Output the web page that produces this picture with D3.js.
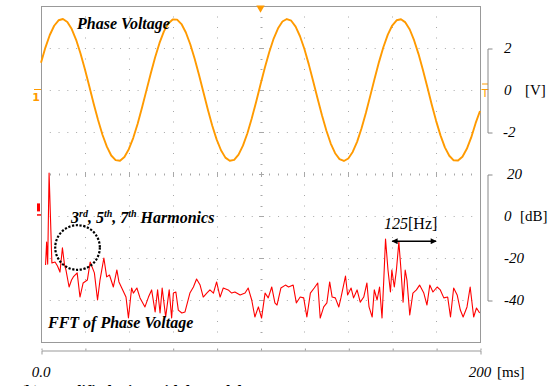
<!DOCTYPE html>
<html>
<head>
<meta charset="utf-8">
<script src="https://cdn.jsdelivr.net/npm/d3@7/dist/d3.min.js"></script>
<style>
  html, body { margin: 0; padding: 0; background: #fff; }
  svg { display: block; }
  text { font-family: 'Liberation Serif', 'Times New Roman', serif; fill: #000; }
</style>
</head>
<body>
<div id="chart"></div>
<script>
// phase voltage, one sample every 2 ms from 0 to 200 ms [V]
const voltStep = 2;
const phaseVolt = [1.30, 2.02, 2.62, 3.06, 3.32, 3.38, 3.24, 2.90, 2.39, 1.74, 0.99, 0.18, -0.65, -1.43, -2.13, -2.70,
  -3.12, -3.34, -3.37, -3.19, -2.82, -2.29, -1.62, -0.85, -0.03, 0.79, 1.56, 2.24, 2.79, 3.17, 3.36, 3.35, 3.14,
  2.74, 2.18, 1.49, 0.71, -0.11, -0.93, -1.69, -2.35, -2.87, -3.22, -3.37, -3.33, -3.08, -2.65, -2.07, -1.36,
  -0.57, 0.26, 1.07, 1.81, 2.45, 2.94, 3.26, 3.38, 3.30, 3.02, 2.56, 1.95, 1.22, 0.42, -0.40, -1.20, -1.93,
  -2.55, -3.01, -3.29, -3.38, -3.26, -2.95, -2.47, -1.83, -1.09, -0.28, 0.55, 1.34, 2.05, 2.64, 3.07, 3.32,
  3.37, 3.22, 2.88, 2.36, 1.71, 0.95, 0.14, -0.69, -1.47, -2.16, -2.73, -3.13, -3.35, -3.36, -3.18, -2.80,
  -2.26, -1.58, -1.00];

// FFT of the phase voltage: frequency [Hz] and level [dB]
const fftFreq = [13, 16, 19, 23, 27, 31, 40, 47, 54, 61, 67, 71, 80, 87, 92, 103, 111, 120, 132, 140, 152, 161,
  168, 179, 187, 195, 206, 216, 222, 230, 242, 249, 258, 263, 273, 282, 296, 306, 315, 325, 332, 339, 345, 355,
  365, 372, 377, 384, 391, 401, 410, 424, 434, 443, 453, 462, 472, 481, 491, 500, 510, 519, 533, 543, 552, 567,
  581, 590, 600, 609, 619, 628, 638, 647, 657, 666, 672, 683, 696, 705, 718, 727, 738, 748, 757, 767, 778, 788,
  795, 805, 814, 822, 829, 838, 848, 854, 867, 873, 883, 890, 900, 909, 919, 928, 934, 943, 949, 957, 964, 971,
  976, 981, 988, 995, 999, 1006, 1012, 1019, 1025, 1031, 1037, 1042, 1050, 1059, 1069, 1078, 1090, 1099, 1107,
  1116, 1128, 1137, 1147, 1158, 1166, 1175, 1185, 1194, 1202, 1213, 1222, 1232, 1240, 1249];
const fftDb = [-23.3, -12.4, -22.9, 20.5, -1.0, -22.4, -21.9, -23.8, -26.7, -15.2, -23.3, -25.7, -33.8, -30.5,
  -29.0, -27.1, -38.6, -31.9, -30.5, -21.9, -27.1, -40.0, -30.5, -20.0, -29.0, -28.1, -33.8, -25.7, -31.4, -34.3,
  -38.6, -48.6, -34.3, -36.7, -34.3, -39.0, -43.3, -38.6, -35.2, -45.7, -35.2, -46.2, -34.3, -48.1, -35.2, -48.6,
  -36.7, -36.2, -44.8, -46.2, -45.7, -36.7, -33.8, -30.0, -32.9, -38.6, -36.7, -35.2, -36.7, -31.4, -38.6, -34.3,
  -35.2, -36.7, -36.2, -37.6, -36.7, -34.3, -40.0, -48.1, -43.3, -48.6, -36.7, -39.0, -33.8, -41.4, -42.4, -34.3,
  -32.9, -33.8, -32.9, -41.4, -38.6, -39.0, -48.1, -36.7, -34.3, -31.9, -48.6, -43.3, -41.4, -31.4, -38.6, -39.0,
  -43.3, -39.0, -28.6, -37.6, -34.3, -39.0, -35.2, -41.0, -38.6, -31.9, -43.3, -48.1, -35.2, -40.0, -33.8, -48.6,
  -30.5, -11.0, -25.7, -36.2, -25.7, -33.8, -25.7, -12.4, -25.7, -41.0, -25.7, -30.5, -47.1, -36.7, -35.2, -32.9,
  -36.7, -42.4, -32.9, -36.2, -33.8, -35.2, -39.0, -38.6, -48.1, -34.3, -37.6, -44.8, -48.1, -43.3, -33.8, -48.1,
  -43.8, -46.2];

const voltTicks = [2, 0, -2];
const dbTicks = [20, 0, -20, -40];
const timeLabels = ['0.0', '200'];

const W = 554, H = 386;
const margin = { top: 6, right: 74, bottom: 44, left: 41 };
const width = W - margin.left - margin.right;   // 439
const height = H - margin.top - margin.bottom;  // 336
const orange = '#ff9a00';
const red = '#ff0000';
const gridCol = '#a8a8a8';

const svg = d3.select('#chart').append('svg')
  .attr('width', W)
  .attr('height', H);

// scales: 10 x 8 divisions
const xT = d3.scaleLinear().domain([0, 200]).range([margin.left, margin.left + width]);
const xF = d3.scaleLinear().domain([0, 1250]).range([margin.left, margin.left + width]);
const yV = d3.scaleLinear().domain([-4, 4]).range([margin.top + height / 2, margin.top]);
const yDb = d3.scaleLinear().domain([-60, 20]).range([margin.top + height, margin.top + height / 2]);
const xDiv = d3.scaleLinear().domain([0, 10]).range([margin.left, margin.left + width]);
const yDiv = d3.scaleLinear().domain([0, 8]).range([margin.top, margin.top + height]);

// dotted grid
const grid = svg.append('g').attr('stroke', gridCol).attr('stroke-width', 1);
grid.selectAll('.vg').data(d3.range(1, 10).filter(i => i !== 5)).enter().append('line')
  .attr('x1', d => Math.round(xDiv(d)) + 0.5).attr('x2', d => Math.round(xDiv(d)) + 0.5)
  .attr('y1', yDiv(0)).attr('y2', yDiv(8))
  .attr('stroke-dasharray', '1,' + (height / 32 - 1));
grid.selectAll('.hg').data(d3.range(1, 8).filter(j => j !== 4)).enter().append('line')
  .attr('y1', d => Math.round(yDiv(d)) + 0.5).attr('y2', d => Math.round(yDiv(d)) + 0.5)
  .attr('x1', xDiv(0)).attr('x2', xDiv(10))
  .attr('stroke-dasharray', '1,' + (width / 50 - 1));

// centre lines with minor ticks
const cx = Math.round(xDiv(5)) + 0.5, cy = Math.round(yDiv(4)) + 0.5;
grid.selectAll('.ct').data(d3.range(1, 50)).enter().append('line')
  .attr('x1', d => Math.round(xDiv(d / 5)) + 0.5).attr('x2', d => Math.round(xDiv(d / 5)) + 0.5)
  .attr('y1', d => cy - (d % 5 === 0 ? 2.5 : 1)).attr('y2', d => cy + (d % 5 === 0 ? 2.5 : 1));
grid.selectAll('.cv').data(d3.range(1, 32)).enter().append('line')
  .attr('y1', d => Math.round(yDiv(d / 4)) + 0.5).attr('y2', d => Math.round(yDiv(d / 4)) + 0.5)
  .attr('x1', d => cx - (d % 4 === 0 ? 2.5 : 1)).attr('x2', d => cx + (d % 4 === 0 ? 2.5 : 1));

// frame
svg.append('rect')
  .attr('x', margin.left + 0.5).attr('y', margin.top + 0.5)
  .attr('width', width).attr('height', height)
  .attr('fill', 'none').attr('stroke', '#999').attr('stroke-width', 1);

// FFT trace
const fftPts = fftFreq.map((f, i) => [f, fftDb[i]]);
svg.append('path')
  .datum(fftPts)
  .attr('fill', 'none')
  .attr('stroke', red)
  .attr('stroke-width', 1.1)
  .attr('stroke-linejoin', 'round')
  .attr('d', d3.line().x(d => xF(d[0])).y(d => yDb(d[1])));

// phase voltage trace
svg.append('path')
  .datum(phaseVolt)
  .attr('fill', 'none')
  .attr('stroke', orange)
  .attr('stroke-width', 1.9)
  .attr('stroke-linejoin', 'round')
  .attr('d', d3.line().x((d, i) => xT(i * voltStep)).y(d => yV(d)));

// scope markers
svg.append('path')
  .attr('d', d3.symbol(d3.symbolTriangle, 30)())
  .attr('transform', 'translate(' + xT(100) + ',' + (margin.top + 2) + ') rotate(180)')
  .attr('fill', orange);
svg.append('line')
  .attr('x1', margin.left - 7).attr('x2', margin.left).attr('y1', yV(0) - 0.5).attr('y2', yV(0) - 0.5)
  .attr('stroke', orange).attr('stroke-width', 1);
svg.append('text').attr('x', margin.left - 5).attr('y', yV(0) + 11)
  .attr('text-anchor', 'middle').style('font-family', 'DejaVu Sans, sans-serif')
  .style('font-size', '11px').style('font-weight', 'bold').style('fill', orange).text('1');
svg.append('line')
  .attr('x1', margin.left + width + 2).attr('x2', margin.left + width + 8)
  .attr('y1', yV(0) - 6).attr('y2', yV(0) - 6)
  .attr('stroke', orange).attr('stroke-width', 1);
svg.append('text').attr('x', margin.left + width + 5).attr('y', yV(0) + 7)
  .attr('text-anchor', 'middle').style('font-family', 'DejaVu Sans, sans-serif')
  .style('font-size', '11px').style('fill', orange).text('T');
svg.append('rect')
  .attr('x', margin.left - 4).attr('y', yDb(6)).attr('width', 3).attr('height', 8)
  .attr('fill', red);
svg.append('line')
  .attr('x1', margin.left - 4).attr('x2', margin.left).attr('y1', yDb(0.5)).attr('y2', yDb(0.5))
  .attr('stroke', red).attr('stroke-width', 1.5);

// right bracket axes
const axV = d3.scaleLinear().domain([-2, 2]).range([yV(-2), yV(2)]);
svg.append('g')
  .attr('transform', 'translate(' + (margin.left + width + 7.5) + ',0.5)')
  .call(d3.axisRight(axV).tickValues([]).tickSizeOuter(5))
  .call(g => g.select('.domain').attr('stroke', '#888'));
const axDb = d3.scaleLinear().domain([-40, 20]).range([yDb(-40), yDb(20)]);
svg.append('g')
  .attr('transform', 'translate(' + (margin.left + width + 7.5) + ',0.5)')
  .call(d3.axisRight(axDb).tickValues([]).tickSizeOuter(5))
  .call(g => g.select('.domain').attr('stroke', '#888'));

const labX = margin.left + width + 24;
svg.selectAll('.vl').data(voltTicks).enter().append('text')
  .attr('x', d => labX - (d < 0 ? 1 : 0)).attr('y', d => yV(d) + 5)
  .style('font-size', '15px').style('font-style', 'italic')
  .text(d => d);
svg.append('text').attr('x', labX + 21).attr('y', yV(0) + 5)
  .style('font-size', '15px').text('[V]');
svg.selectAll('.dl').data(dbTicks).enter().append('text')
  .attr('x', d => labX + (d === 20 ? 3 : 0)).attr('y', d => yDb(d) + 5)
  .style('font-size', '15px').style('font-style', 'italic')
  .text(d => d);
svg.append('text').attr('x', labX + 16).attr('y', yDb(0) + 5)
  .style('font-size', '15px').text('[dB]');

// bottom time axis
const xAxisG = svg.append('g')
  .attr('transform', 'translate(0.5,' + (margin.top + height + 8.5) + ')')
  .call(d3.axisBottom(xT).ticks(10).tickFormat('').tickSizeInner(-2).tickSizeOuter(4));
xAxisG.selectAll('line, path').attr('stroke', '#999');
svg.append('text').attr('x', xT(0)).attr('y', 377)
  .attr('text-anchor', 'middle').style('font-size', '15px').style('font-style', 'italic')
  .text(timeLabels[0]);
svg.append('text').attr('x', xT(200)).attr('y', 377)
  .attr('text-anchor', 'middle').style('font-size', '15px').style('font-style', 'italic')
  .text(timeLabels[1]);
svg.append('text').attr('x', xT(200) + 17).attr('y', 377)
  .style('font-size', '15px').text('[ms]');

// annotations
const ann = { 'font-size': '16px', 'font-weight': 'bold', 'font-style': 'italic' };
const styleAnn = sel => { Object.entries(ann).forEach(([k, v]) => sel.style(k, v)); return sel; };
styleAnn(svg.append('text').attr('x', 77).attr('y', 29)).text('Phase Voltage');
styleAnn(svg.append('text').attr('x', 48).attr('y', 328)).text('FFT of Phase Voltage');
const harm = styleAnn(svg.append('text').attr('x', 71).attr('y', 223));
harm.append('tspan').text('3');
harm.append('tspan').attr('dy', -6).style('font-size', '10px').text('rd');
harm.append('tspan').attr('dy', 6).text(',  5');
harm.append('tspan').attr('dy', -6).style('font-size', '10px').text('th');
harm.append('tspan').attr('dy', 6).text(', 7');
harm.append('tspan').attr('dy', -6).style('font-size', '10px').text('th');
harm.append('tspan').attr('dy', 6).text(' Harmonics');

svg.append('circle')
  .attr('cx', xF(104)).attr('cy', yDb(-15)).attr('r', 22.3)
  .attr('fill', 'none').attr('stroke', '#000').attr('stroke-width', 2.2)
  .attr('stroke-dasharray', '2.2,1.6');

// 125 Hz double arrow
const defs = svg.append('defs');
defs.append('marker').attr('id', 'ah').attr('viewBox', '0 0 10 10')
  .attr('refX', 9).attr('refY', 5).attr('markerWidth', 8).attr('markerHeight', 6)
  .attr('markerUnits', 'userSpaceOnUse').attr('orient', 'auto-start-reverse')
  .append('path').attr('d', 'M0,0L10,5L0,10Z').attr('fill', '#000');
svg.append('line')
  .attr('x1', xF(1000)).attr('x2', xF(1125)).attr('y1', yDb(-12)).attr('y2', yDb(-12))
  .attr('stroke', '#000').attr('stroke-width', 1.6)
  .attr('marker-start', 'url(#ah)').attr('marker-end', 'url(#ah)');
const hz = svg.append('text').attr('x', 384).attr('y', 229).style('font-size', '16px');
hz.append('tspan').style('font-style', 'italic').text('125');
hz.append('tspan').text('[Hz]');

// caption, cut off by the page edge as in the source figure
svg.append('text').attr('x', 20).attr('y', 397)
  .style('font-size', '16px').style('font-weight', 'bold').style('word-spacing', '6px')
  .text('(b)  Modified  sinusoidal  model');
</script>
</body>
</html>
